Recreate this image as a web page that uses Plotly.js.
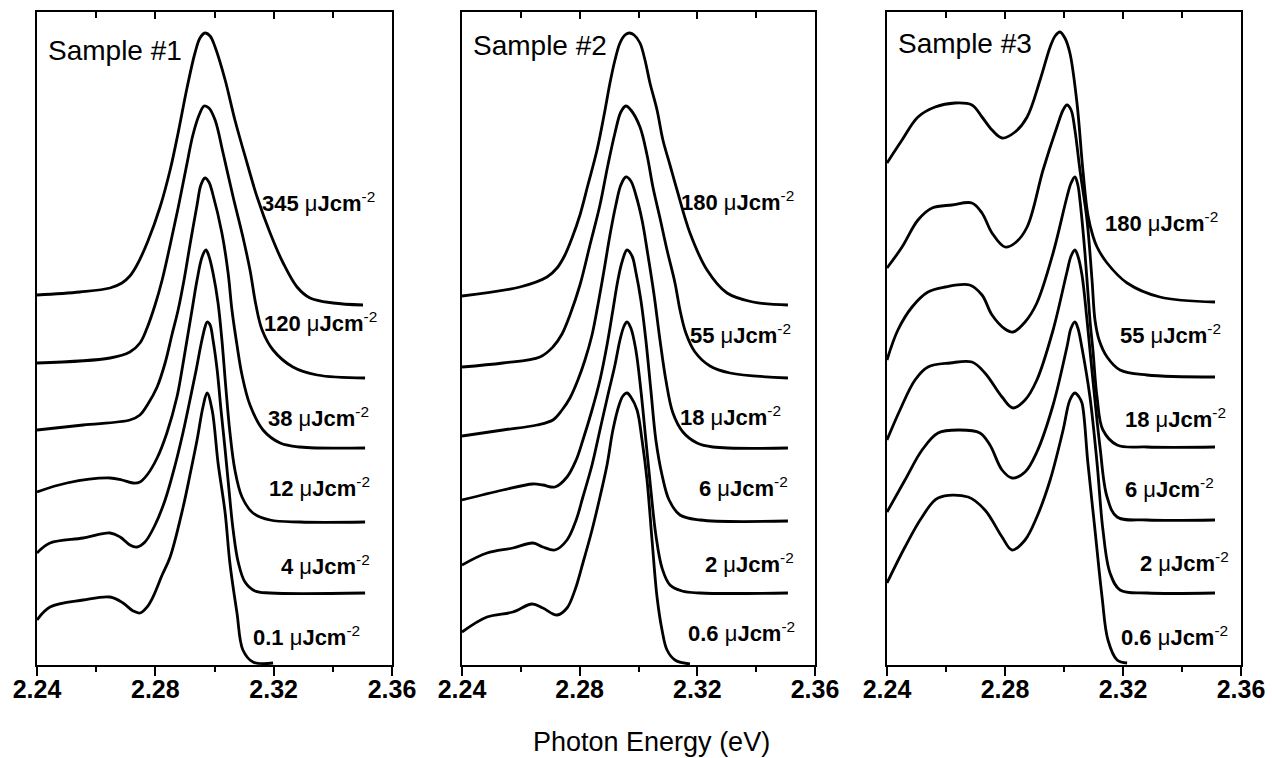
<!DOCTYPE html>
<html>
<head>
<meta charset="utf-8">
<script src="https://cdn.plot.ly/plotly-3.0.1.min.js"></script>
<style>html,body{margin:0;padding:0;background:#fff;}#chart{width:1272px;height:758px;}</style>
</head>
<body>
<div id="chart"></div>
<script>
// ---------- Sample #1 (photon energy in eV, intensity in arbitrary offset units) ----------
const p1_345_E = [2.2400,2.2545,2.2647,2.2687,2.2714,2.2738,2.2775,2.2816,2.2850,2.2877,2.2907,2.2934,2.2951,2.2968,2.2985,2.3002,2.3036,2.3069,2.3110,2.3144,2.3188,2.3232,2.3279,2.3323,2.3401,2.3502];
const p1_345_I = [370,373,377,382,389,400,424,458,495,532,577,612,627,632,629,618,585,545,502,468,432,402,378,367,362,360];
const p1_120_E = [2.2400,2.2647,2.2714,2.2748,2.2772,2.2799,2.2823,2.2850,2.2877,2.2904,2.2927,2.2948,2.2965,2.2981,2.3002,2.3029,2.3063,2.3096,2.3120,2.3140,2.3161,2.3198,2.3265,2.3347,2.3509];
const p1_120_I = [302,307,313,322,337,360,385,420,457,497,530,550,559,557,545,512,468,428,395,360,335,315,298,290,287];
const p1_38_E = [2.2400,2.2556,2.2714,2.2748,2.2775,2.2806,2.2833,2.2856,2.2877,2.2897,2.2917,2.2941,2.2954,2.2968,2.2981,2.2995,2.3025,2.3046,2.3059,2.3076,2.3093,2.3120,2.3164,2.3222,2.3289,2.3509];
const p1_38_I = [235,240,245,250,261,278,302,330,355,385,420,460,480,487,483,470,432,392,355,320,290,260,235,222,218,217];
const p1_12_E = [2.2400,2.2501,2.2647,2.2687,2.2725,2.2748,2.2772,2.2806,2.2839,2.2873,2.2890,2.2907,2.2924,2.2941,2.2958,2.2971,2.2981,2.2995,2.3012,2.3025,2.3039,2.3052,2.3069,2.3093,2.3130,2.3188,2.3289,2.3509];
const p1_12_I = [173,182,187,185,182,183,190,207,232,268,295,325,355,385,408,415,409,392,362,325,275,233,195,168,152,145,143,143];
const p1_4_E = [2.2400,2.2444,2.2556,2.2647,2.2681,2.2714,2.2738,2.2765,2.2799,2.2833,2.2867,2.2894,2.2917,2.2938,2.2954,2.2968,2.2975,2.2985,2.2995,2.3009,2.3022,2.3036,2.3049,2.3063,2.3080,2.3103,2.3137,2.3188,2.3509];
const p1_4_I = [112,122,127,132,128,120,118,123,140,165,200,233,265,295,320,338,343,340,325,295,255,215,175,135,103,83,74,72,72];
const p1_01_E = [2.2400,2.2444,2.2556,2.2647,2.2691,2.2725,2.2748,2.2772,2.2792,2.2823,2.2850,2.2894,2.2917,2.2941,2.2961,2.2975,2.2992,2.3012,2.3036,2.3052,2.3076,2.3096,2.3130,2.3198];
const p1_01_I = [45,58,65,68,62,54,52,58,68,90,108,158,190,225,258,272,255,202,152,102,52,15,3,2];
const p1Labels = ['345','120','38','12','4','0.1'];

// ---------- Sample #2 ----------
const p2_180_E = [2.2400,2.2597,2.2689,2.2723,2.2750,2.2774,2.2801,2.2828,2.2859,2.2883,2.2903,2.2920,2.2937,2.2954,2.2968,2.2985,2.3005,2.3022,2.3039,2.3063,2.3083,2.3107,2.3131,2.3175,2.3233,2.3301,2.3389,2.3508];
const p2_180_I = [369,378,388,397,410,427,450,480,515,550,582,605,622,630,632,630,622,605,582,555,525,500,475,432,395,372,363,360];
const p2_55_E = [2.2400,2.2539,2.2665,2.2709,2.2740,2.2767,2.2801,2.2835,2.2869,2.2896,2.2920,2.2940,2.2957,2.2974,2.3005,2.3029,2.3049,2.3073,2.3097,2.3124,2.3141,2.3161,2.3192,2.3243,2.3311,2.3508];
const p2_55_I = [298,302,308,318,331,350,380,420,460,500,532,553,559,555,538,510,478,447,415,382,355,332,313,299,292,287];
const p2_18_E = [2.2400,2.2539,2.2655,2.2709,2.2740,2.2767,2.2794,2.2818,2.2842,2.2862,2.2883,2.2903,2.2923,2.2940,2.2957,2.2974,2.2991,2.3012,2.3032,2.3053,2.3073,2.3093,2.3117,2.3151,2.3199,2.3253,2.3508];
const p2_18_I = [229,235,240,245,255,267,285,305,330,360,395,430,460,480,488,484,470,445,410,370,325,285,252,233,222,218,217];
const p2_6_E = [2.2400,2.2539,2.2641,2.2675,2.2716,2.2757,2.2788,2.2811,2.2842,2.2869,2.2893,2.2913,2.2930,2.2944,2.2961,2.2978,2.2991,2.3008,2.3025,2.3042,2.3059,2.3080,2.3104,2.3141,2.3209,2.3508];
const p2_6_I = [165,175,181,180,178,188,205,225,255,285,320,355,385,403,415,409,393,365,325,275,225,190,165,150,145,144];
const p2_2_E = [2.2400,2.2485,2.2573,2.2641,2.2675,2.2716,2.2757,2.2788,2.2811,2.2842,2.2869,2.2896,2.2920,2.2937,2.2951,2.2961,2.2974,2.2991,2.3008,2.3025,2.3042,2.3059,2.3080,2.3107,2.3148,2.3209,2.3508];
const p2_2_I = [100,112,117,122,118,115,125,145,168,200,235,270,300,325,339,343,337,315,275,225,175,130,97,80,74,72,72];
const p2_06_E = [2.2400,2.2485,2.2573,2.2638,2.2675,2.2723,2.2757,2.2784,2.2811,2.2842,2.2869,2.2893,2.2913,2.2934,2.2947,2.2961,2.2974,2.2995,2.3012,2.3029,2.3046,2.3063,2.3080,2.3097,2.3124,2.3175];
const p2_06_I = [33,48,53,61,57,50,57,75,102,135,168,200,235,260,269,272,268,255,225,185,125,68,35,15,5,1];
const p2Labels = ['180','55','18','6','2','0.6'];

// ---------- Sample #3 ----------
const p3_180_E = [2.2400,2.2451,2.2505,2.2563,2.2631,2.2688,2.2722,2.2756,2.2790,2.2834,2.2875,2.2919,2.2953,2.2970,2.2986,2.3003,2.3020,2.3044,2.3064,2.3081,2.3098,2.3112,2.3146,2.3214,2.3325,2.3512];
const p3_180_I = [502,525,548,558,562,560,548,535,527,533,548,585,618,629,633,627,612,562,495,450,429,418,402,382,368,363];
const p3_55_E = [2.2400,2.2451,2.2505,2.2553,2.2620,2.2688,2.2722,2.2756,2.2800,2.2834,2.2875,2.2929,2.2976,2.2997,2.3010,2.3024,2.3037,2.3054,2.3078,2.3095,2.3105,2.3119,2.3146,2.3190,2.3281,2.3512];
const p3_55_I = [397,418,445,457,460,462,452,432,418,422,438,495,538,555,560,555,535,495,445,385,345,325,308,295,290,288];
const p3_18_E = [2.2400,2.2437,2.2485,2.2539,2.2597,2.2680,2.2722,2.2756,2.2800,2.2827,2.2868,2.2908,2.2963,2.3010,2.3024,2.3037,2.3047,2.3054,2.3071,2.3088,2.3098,2.3112,2.3132,2.3180,2.3281,2.3512];
const p3_18_I = [305,335,358,373,378,380,370,350,336,333,343,362,412,468,482,488,480,465,412,345,315,268,235,220,218,218];
const p3_6_E = [2.2400,2.2444,2.2495,2.2539,2.2614,2.2688,2.2732,2.2790,2.2827,2.2868,2.2908,2.2963,2.3010,2.3024,2.3037,2.3047,2.3061,2.3078,2.3098,2.3122,2.3146,2.3180,2.3281,2.3512];
const p3_6_I = [225,255,285,298,302,303,292,268,257,265,285,335,393,409,415,409,390,345,285,218,168,148,145,145];
const p3_2_E = [2.2400,2.2461,2.2519,2.2573,2.2647,2.2715,2.2749,2.2790,2.2824,2.2868,2.2908,2.2963,2.3010,2.3024,2.3037,2.3047,2.3061,2.3088,2.3112,2.3132,2.3156,2.3190,2.3281,2.3512];
const p3_2_I = [153,185,215,232,235,232,220,195,187,193,213,260,318,337,343,337,317,268,202,135,92,75,72,72];
const p3_06_E = [2.2400,2.2461,2.2519,2.2573,2.2675,2.2732,2.2790,2.2824,2.2868,2.2908,2.2953,2.2997,2.3020,2.3037,2.3051,2.3061,2.3081,2.3105,2.3129,2.3149,2.3180,2.3214];
const p3_06_I = [82,118,148,167,168,155,128,115,125,148,185,235,265,272,268,262,202,135,68,25,5,2];
const p3Labels = ['180','55','18','6','2','0.6'];

const sampleTitles = ['Sample #1','Sample #2','Sample #3'];
const xTitle = 'Photon Energy (eV)';

// ---------- build ----------
const panels = [
  {curves:[[p1_345_E,p1_345_I],[p1_120_E,p1_120_I],[p1_38_E,p1_38_I],[p1_12_E,p1_12_I],[p1_4_E,p1_4_I],[p1_01_E,p1_01_I]], labels:p1Labels,
   lx:[2.3352,2.3357,2.3352,2.3355,2.3374,2.3311], ly:[463,343,248,178,100,29], ty:615, dom:[37,392]},
  {curves:[[p2_180_E,p2_180_I],[p2_55_E,p2_55_I],[p2_18_E,p2_18_I],[p2_6_E,p2_6_I],[p2_2_E,p2_2_I],[p2_06_E,p2_06_I]], labels:p2Labels,
   lx:[2.3336,2.3347,2.3314,2.3357,2.3379,2.3350], ly:[464,331,249,178,102,33], ty:620, dom:[462,815]},
  {curves:[[p3_180_E,p3_180_I],[p3_55_E,p3_55_I],[p3_18_E,p3_18_I],[p3_6_E,p3_6_I],[p3_2_E,p3_2_I],[p3_06_E,p3_06_I]], labels:p3Labels,
   lx:[2.3332,2.3361,2.3378,2.3356,2.3408,2.3375], ly:[443,331,247,177,103,29], ty:622, dom:[887,1241]}
];

const W = 1272, H = 758;
const FONT = 'Liberation Sans, Arial, Helvetica, sans-serif';
const traces = [];
const annotations = [];
const layout = {
  width: W, height: H,
  margin: {l:0, r:0, t:0, b:0},
  paper_bgcolor: '#ffffff', plot_bgcolor: '#ffffff',
  showlegend: false,
  font: {family: FONT, color: '#000'}
};

const yDom = [1 - 665/H, 1 - 12/H];

panels.forEach((p, i) => {
  const n = i + 1;
  const xa = n === 1 ? 'x' : 'x' + n;
  const ya = n === 1 ? 'y' : 'y' + n;
  const xt = 'x' + (n + 3);
  p.curves.forEach(c => {
    traces.push({type:'scatter', mode:'lines', x:c[0], y:c[1], xaxis:xa, yaxis:ya,
      line:{color:'#000', width:2.8, shape:'spline', smoothing:1}, hoverinfo:'skip'});
  });
  traces.push({type:'scatter', mode:'lines', x:[], y:[], xaxis:xt, yaxis:ya, hoverinfo:'skip'});
  const dom = [p.dom[0]/W, p.dom[1]/W];
  layout[n === 1 ? 'xaxis' : 'xaxis' + n] = {
    domain: dom, anchor: ya, range: [2.24, 2.36],
    tick0: 2.24, dtick: 0.04, tickformat: '.2f',
    ticks: 'outside', ticklen: 9, tickwidth: 2, tickcolor: '#000',
    ticklabelstandoff: -8,
    minor: {tick0: 2.24, dtick: 0.02, ticks: 'outside', ticklen: 5, tickwidth: 2, tickcolor: '#000', showgrid: false},
    showline: true, linewidth: 2, linecolor: '#000', mirror: true,
    showgrid: false, zeroline: false,
    tickfont: {family: FONT, size: 25, weight: 'bold', color: '#000'}
  };
  layout['xaxis' + (n + 3)] = {
    overlaying: xa, side: 'top', anchor: ya, domain: dom, range: [2.24, 2.36],
    tick0: 2.24, dtick: 0.04, ticks: 'inside', ticklen: 7, tickwidth: 2, tickcolor: '#000',
    minor: {tick0: 2.24, dtick: 0.02, ticks: 'inside', ticklen: 6, tickwidth: 2, tickcolor: '#000', showgrid: false},
    showticklabels: false, showline: false, showgrid: false, zeroline: false
  };
  layout[n === 1 ? 'yaxis' : 'yaxis' + n] = {
    domain: yDom, anchor: xa, range: [0, 653],
    showticklabels: false, ticks: '', showgrid: false, zeroline: false,
    showline: true, linewidth: 2, linecolor: '#000', mirror: true
  };
  annotations.push({xref: xa, yref: ya, x: 2.2432, y: p.ty, xanchor: 'left', yanchor: 'middle',
    text: sampleTitles[i], showarrow: false, font: {family: FONT, size: 28, color: '#000'}});
  p.labels.forEach((lab, k) => {
    annotations.push({xref: xa, yref: ya, x: p.lx[k], y: p.ly[k], xanchor: 'center', yanchor: 'middle',
      text: '<b>' + lab + ' </b>\u03bc<b>Jcm</b><sup>-2</sup>', showarrow: false,
      font: {family: FONT, size: 22, color: '#000'}});
  });
});

annotations.push({xref: 'paper', yref: 'paper', x: 651/W, y: 1 - 742/H, xanchor: 'center', yanchor: 'middle',
  text: xTitle, showarrow: false, font: {family: FONT, size: 27, color: '#000'}});
layout.annotations = annotations;

Plotly.newPlot('chart', traces, layout, {staticPlot: true, displayModeBar: false});
</script>
</body>
</html>
